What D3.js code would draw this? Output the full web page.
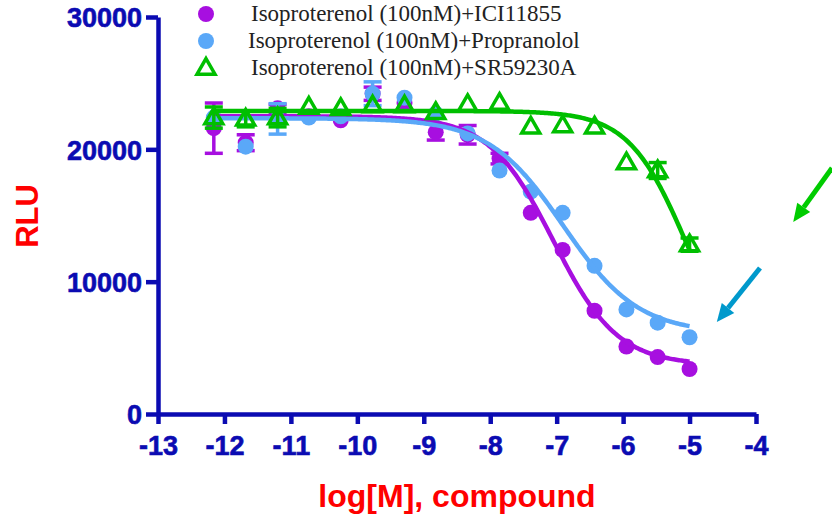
<!DOCTYPE html>
<html>
<head>
<meta charset="utf-8">
<script src="https://cdn.jsdelivr.net/npm/d3@7"></script>
<style>
  body { margin: 0; background: #ffffff; }
  svg { display: block; }
</style>
</head>
<body>
<div id="chart"></div>
<script>
// log concentrations (1:3 dilution series)
const logConc = [-12.16, -11.68, -11.2, -10.73, -10.25, -9.77, -9.29, -8.82,
                 -8.34, -7.86, -7.39, -6.91, -6.43, -5.95, -5.48, -5.0];

// RLU means and error values (0 = hidden by marker)
const iciValues = [21600, 20500, 23100, 22500, 22200, 24200, 23500, 21300,
                   21100, 19300, 15200, 12400, 7800, 5100, 4300, 3400];
const iciErrors = [1900, 600, 300, 0, 0, 500, 0, 600,
                   700, 400, 0, 0, 0, 0, 0, 0];

const propValues = [22400, 20200, 22300, 22400, 22500, 24200, 23900, 22700,
                    21200, 18400, 16800, 15200, 11200, 7900, 6900, 5800];
const propErrors = [0, 0, 1150, 0, 0, 900, 0, 0,
                    0, 0, 0, 0, 0, 0, 0, 0];

const srValues = [22400, 22300, 22400, 23200, 23100, 23300, 23300, 22800,
                  23400, 23500, 21700, 21800, 21700, 19000, 18400, 12800];
const srErrors = [800, 600, 700, 0, 0, 0, 0, 0,
                  0, 0, 0, 0, 0, 0, 600, 500];

// 4PL fit parameters: [top, bottom, logEC50, hill]
const iciFit = [22500, 3700, -7.05, 0.9];
const propFit = [22350, 6100, -6.9, 0.77];
const srFit = [22900, 3000, -5.05, 1.0];

const xTicks = [-13, -12, -11, -10, -9, -8, -7, -6, -5, -4];
const yTicks = [0, 10000, 20000, 30000];

const legendLabels = [
  "Isoproterenol (100nM)+ICI11855",
  "Isoproterenol (100nM)+Propranolol",
  "Isoproterenol (100nM)+SR59230A"
];

// annotation arrows in data units: [x1, y1, x2, y2]
const arrows = [
  { pts: [-2.856, 18590, -3.44, 14510], color: "#00cc00" },
  { pts: [-3.94, 11030, -4.59, 6950], color: "#0099cc" }
];

const width = 832, height = 515;
const axisColor = "#0b0bb2";
const purple = "#a70fe0";
const blue = "#5aa8f8";
const green = "#00bf00";

const svg = d3.select("#chart").append("svg")
  .attr("width", width)
  .attr("height", height);

const x = d3.scaleLinear().domain([-13, -4]).range([158, 756]);
const y = d3.scaleLinear().domain([0, 30000]).range([414, 17]);

// axes
const xAxis = d3.axisBottom(x).tickValues(xTicks).tickSize(10).tickSizeOuter(0)
  .tickPadding(12).tickFormat(d => d);
const gx = svg.append("g").attr("transform", `translate(0,${y(0)})`).call(xAxis);

const yAxis = d3.axisLeft(y).tickValues(yTicks).tickSize(12).tickSizeOuter(0)
  .tickPadding(4).tickFormat(d3.format("d"));
const gy = svg.append("g").attr("transform", `translate(${x(-13)},0)`).call(yAxis);

[gx, gy].forEach(g => {
  g.select(".domain").attr("stroke", axisColor).attr("stroke-width", 4.5);
  g.selectAll(".tick line").attr("stroke", axisColor).attr("stroke-width", 4.5);
  g.selectAll(".tick text")
    .attr("fill", axisColor)
    .attr("stroke", axisColor)
    .attr("stroke-width", 0.6)
    .attr("font-family", "Liberation Sans, Arial, sans-serif")
    .attr("font-weight", "bold")
    .attr("font-size", "27px");
});
gy.selectAll(".tick text").attr("dy", "0.36em");

// axis titles
svg.append("text")
  .attr("transform", `translate(38,${216}) rotate(-90)`)
  .attr("text-anchor", "middle")
  .attr("fill", "#ff0000")
  .attr("font-family", "Liberation Sans, Arial, sans-serif")
  .attr("font-weight", "bold")
  .attr("font-size", "31px")
  .text("RLU");

svg.append("text")
  .attr("x", 457)
  .attr("y", 507)
  .attr("text-anchor", "middle")
  .attr("fill", "#ff0000")
  .attr("font-family", "Liberation Sans, Arial, sans-serif")
  .attr("font-weight", "bold")
  .attr("font-size", "32px")
  .text("log[M], compound");

// helpers
function fitCurve(p) {
  const [top, bottom, ec50, hill] = p;
  const xs = d3.range(logConc[0], logConc[logConc.length - 1] + 0.001, 0.02);
  return xs.map(v => [v, bottom + (top - bottom) / (1 + Math.pow(10, (v - ec50) * hill))]);
}

const line = d3.line().x(d => x(d[0])).y(d => y(d[1]));

function drawErrors(vals, errs, color) {
  const g = svg.append("g").attr("stroke", color).attr("stroke-width", 3.5);
  vals.forEach((v, i) => {
    if (!errs[i]) return;
    const cx = x(logConc[i]);
    g.append("line").attr("x1", cx).attr("x2", cx)
      .attr("y1", y(v + errs[i])).attr("y2", y(v - errs[i]));
    [v + errs[i], v - errs[i]].forEach(e => {
      g.append("line").attr("x1", cx - 9).attr("x2", cx + 9)
        .attr("y1", y(e)).attr("y2", y(e));
    });
  });
}

function drawCircles(vals, color) {
  svg.append("g").selectAll("circle")
    .data(vals)
    .enter()
    .append("circle")
    .attr("cx", (d, i) => x(logConc[i]))
    .attr("cy", d => y(d))
    .attr("r", 8)
    .attr("fill", color);
}

const tri = d3.symbol().type(d3.symbolTriangle).size(140);

function drawCurve(p, color) {
  svg.append("path")
    .attr("d", line(fitCurve(p)))
    .attr("fill", "none")
    .attr("stroke", color)
    .attr("stroke-width", 4.5);
}

// series
drawErrors(iciValues, iciErrors, purple);
drawCircles(iciValues, purple);
drawErrors(propValues, propErrors, blue);
drawCircles(propValues, blue);
drawCurve(iciFit, purple);
drawCurve(propFit, blue);
drawCurve(srFit, green);
drawErrors(srValues, srErrors, green);
svg.append("g").selectAll("path")
  .data(srValues)
  .enter()
  .append("path")
  .attr("d", tri)
  .attr("transform", (d, i) => `translate(${x(logConc[i])},${y(d) + 1})`)
  .attr("fill", "none")
  .attr("stroke", green)
  .attr("stroke-width", 3.5);

// legend
const legend = svg.append("g");
legendLabels.forEach((lab, i) => {
  const ly = 14 + i * 27;
  if (i < 2) {
    legend.append("circle").attr("cx", 206).attr("cy", ly).attr("r", 8)
      .attr("fill", i === 0 ? purple : blue);
  } else {
    legend.append("path").attr("d", tri)
      .attr("transform", `translate(206,${ly + 1})`)
      .attr("fill", "none").attr("stroke", green).attr("stroke-width", 3.5);
  }
  legend.append("text")
    .attr("x", i === 1 ? 248 : 251)
    .attr("y", ly + 7)
    .attr("font-family", "Liberation Serif, Times New Roman, serif")
    .attr("font-size", "23px")
    .attr("fill", "#222222")
    .text(lab);
});

// arrows
arrows.forEach(a => {
  const [x1, y1, x2, y2] = [x(a.pts[0]), y(a.pts[1]), x(a.pts[2]), y(a.pts[3])];
  const ang = Math.atan2(y2 - y1, x2 - x1);
  const hl = 18, hw = 8;
  const bx = x2 - hl * Math.cos(ang), by = y2 - hl * Math.sin(ang);
  svg.append("line")
    .attr("x1", x1).attr("y1", y1).attr("x2", bx).attr("y2", by)
    .attr("stroke", a.color).attr("stroke-width", 5);
  const px = -Math.sin(ang) * hw, py = Math.cos(ang) * hw;
  svg.append("polygon")
    .attr("points", `${x2},${y2} ${bx + px},${by + py} ${bx - px},${by - py}`)
    .attr("fill", a.color);
});
</script>
</body>
</html>
